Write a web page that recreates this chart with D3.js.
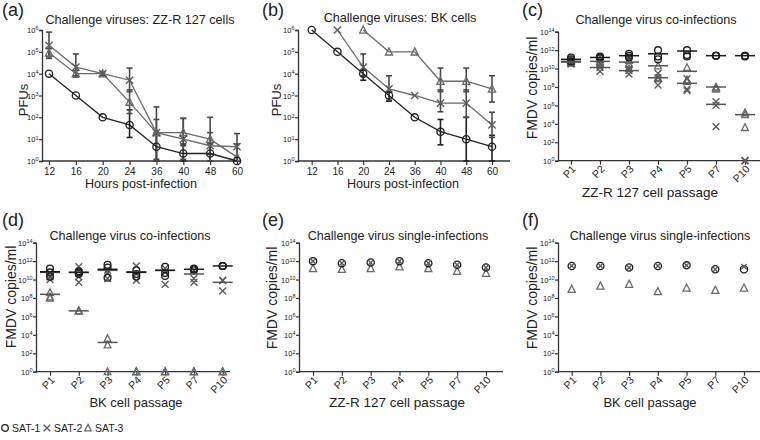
<!DOCTYPE html>
<html>
<head>
<meta charset="utf-8">
<script src="https://cdn.jsdelivr.net/npm/d3@7"></script>
<style>
  body { margin: 0; background: #fff; }
  text { font-family: "Liberation Sans", Arial, sans-serif; fill: #222; }
</style>
</head>
<body>
<svg id="chart" width="760" height="440"></svg>
<script>
// ---- data ----
var hours = ['12', '16', '20', '24', '36', '40', '48', '60'];
var passages = ['P1', 'P2', 'P3', 'P4', 'P5', 'P7', 'P10'];
var pfuTicks = [1e0, 1e1, 1e2, 1e3, 1e4, 1e5, 1e6];
var copyTicks = [1e0, 1e2, 1e4, 1e6, 1e8, 1e10, 1e12, 1e14];
var serotypes = ['SAT-1', 'SAT-2', 'SAT-3'];

// (a) ZZ-R 127 cells, PFUs
var zzSat1 = [1e4, 1e3, 100, 45, 4.5, 2.2, 2.2, 1];
var zzSat1Err = [null, null, null, [12, 220], [1, 20], [1, 6], [1, 6], null];
var zzSat2 = [2e5, 2e4, 1e4, 5e3, 20, 10, 5, 4.5];
var zzSat2Err = [[6e4, 8e5], [8e3, 8e4], null, [1.5e3, 1.8e4], [1, 300], [1.2, 90], [1, 100], [1, 18]];
var zzSat3 = [9e4, 1e4, 1e4, 500, 20, 20, 10, 1.5];
var zzSat3Err = [[5e4, 1.4e5], [7e3, 1.4e4], [8e3, 1.2e4], [150, 1.8e3], [1.2, 80], [5, 90], [2, 20], [1, 6]];

// (b) BK cells, PFUs
var bkSat1 = [1e6, 1e5, 1e4, 1e3, 100, 22, 10, 4.5];
var bkSat1Err = [null, null, [5e3, 1.5e4], [550, 1.4e3], null, [5.5, 80], [1, 100], [1, 15]];
var bkSat2 = [null, 1e6, 2e4, 2e3, 1e3, 450, 450, 45];
var bkSat2Err = [null, null, [8e3, 8e4], [600, 8e3], null, [180, 1.8e3], [100, 1.8e3], [12, 170]];
var bkSat3 = [null, null, 1e6, 1e5, 1e5, 4.5e3, 4.5e3, 2e3];
var bkSat3Err = [null, null, null, null, null, [1.5e3, 1.8e4], [1.5e3, 1.8e4], [500, 8e3]];

// (c) co-infections, ZZ-R 127 passage (copies/ml, three replicates)
var zzCoSat1 = [[1.6e11, 1e11, 6e10], [2e11, 1.3e11, 1.6e11], [4e11, 2.5e11, 1.6e11], [1e12, 1e11, 2e11],
                [1e12, 3e11, 2e11], [2.5e11, 2.5e11, 2.5e11], [2.5e11, 2.5e11, 2e11]];
var zzCoSat2 = [[5e10, 3e10, 4e10], [3e10, 1.3e10, 5e9], [1e10, 2.5e9, 6e9], [3e9, 1.6e8, 1e9],
                [8e8, 6e7, 4e7], [2.5e6, 1e6, 5e3], [1, 1, 1]];
var zzCoSat3 = [[6e10, 8e10, 4e10], [6e10, 4e10, 1e11], [8e10, 3e10, 1e10], [2e10, 1e9, 8e8],
                [1.3e10, 6e8, 4e8], [1e8, 8e7, 6e7], [1e5, 1.6e5, 4e3]];
var zzCoMean1 = [1e11, 1.6e11, 2.5e11, 4e11, 8e11, 2.5e11, 2.5e11];
var zzCoMean2 = [5e10, 1.3e10, 6e9, 1e9, 2.5e8, 1.3e6, null];
var zzCoMean3 = [6e10, 6e10, 5e10, 2e10, 5e9, 1e8, 1e5];

// (d) co-infections, BK passage
var bkCoSat1 = [[1.6e11, 6e10, 2e10], [8e10, 4e10, 6e10], [4e11, 2e11, 1.6e10], [1e11, 4e10, 2e10],
                [2.5e11, 5e10, 2.5e10], [1.6e11, 1e11, 1.3e11], [3e11, 3e11, 3e11]];
var bkCoSat2 = [[1e10, 2e10, 5e10], [2.5e11, 5e9, 2e10], [1.3e10, 5e10, 1e11], [3e11, 8e9, 4e10],
                [3e9, 1.6e11, 6e10], [1.3e10, 5e9, 1e11], [8e9, 6e8, 8e9]];
var bkCoSat3 = [[4e8, 1.3e8, 1e8], [4e6, 4e6, 4e6], [4e3, 8e2, 1], [1, 1, 1], [1, 1, 1], [1, 1, 1], [1, 1, 1]];
var bkCoMean1 = [7e10, 6e10, 1.3e11, 6e10, 1e11, 1.3e11, 3e11];
var bkCoMean2 = [6e10, 6e10, 1e11, 7e10, 1e11, 4e10, 5e9];
var bkCoMean3 = [2.5e8, 4e6, 1.5e3, null, null, null, null];

// (e) single infections, ZZ-R 127 passage
var zzSingle1 = [1e12, 6e11, 7e11, 1e12, 6e11, 4e11, 2e11];
var zzSingle2 = [1e12, 6e11, 7e11, 1e12, 6e11, 4e11, 2e11];
var zzSingle3 = [1.6e11, 1.3e11, 1.6e11, 2.5e11, 1.6e11, 8e10, 5e10];

// (f) single infections, BK passage
var bkSingle1 = [3e11, 3e11, 2e11, 3e11, 3.5e11, 1.3e11, 1.3e11];
var bkSingle2 = [3e11, 3e11, 2e11, 3e11, 3.5e11, 1.3e11, 2.5e11];
var bkSingle3 = [9e8, 2e9, 3.2e9, 5e8, 1.2e9, 7e8, 1.2e9];

// ---- styling ----
var colors = ['#1e1e1e', '#5c5c5c', '#6a6a6a'];
var lineColors = ['#222', '#6a6a6a', '#6a6a6a'];
var svg = d3.select('#chart');
svg.append('rect').attr('width', 760).attr('height', 440).attr('fill', '#fff');

function marker(g, kind, cx, cy, color, size) {
	var s = size || 3.5;
	if (kind === 0) {
		g.append('circle').attr('cx', cx).attr('cy', cy).attr('r', s)
			.attr('fill', 'none').attr('stroke', color).attr('stroke-width', 1.3);
	} else if (kind === 1) {
		g.append('path')
			.attr('d', 'M' + (cx - s) + ',' + (cy - s) + 'L' + (cx + s) + ',' + (cy + s) +
				'M' + (cx - s) + ',' + (cy + s) + 'L' + (cx + s) + ',' + (cy - s))
			.attr('stroke', color).attr('stroke-width', 1.4).attr('fill', 'none');
	} else {
		var h = s * 1.1;
		g.append('path')
			.attr('d', 'M' + cx + ',' + (cy - h) + 'L' + (cx + s) + ',' + (cy + h * 0.8) +
				'L' + (cx - s) + ',' + (cy + h * 0.8) + 'Z')
			.attr('stroke', color).attr('stroke-width', 1.3).attr('fill', 'none');
	}
}

function logAxis(g, y, ticks, x0) {
	var ax = g.append('g').attr('transform', 'translate(' + x0 + ',0)')
		.call(d3.axisLeft(y).tickValues(ticks).tickSize(3).tickFormat(''));
	ax.select('.domain').attr('stroke', '#333').attr('stroke-width', 1.3);
	ax.selectAll('.tick line').attr('stroke', '#333').attr('stroke-width', 1.2);
	var t = ax.selectAll('.tick').append('text')
		.attr('x', -3.5).attr('dy', '0.35em').attr('text-anchor', 'end')
		.style('font-size', '7.5px').attr('fill', '#333');
	t.text('10');
	t.append('tspan').attr('dy', '-0.5em').style('font-size', '5.5px')
		.text(function(d){ return Math.round(Math.log10(d)); });
}

function frame(cfg) {
	var g = svg.append('g');
	g.append('text').attr('x', cfg.lx).attr('y', cfg.ly).style('font-size', '18px').text(cfg.tag);
	g.append('text').attr('x', cfg.tx).attr('y', cfg.ty).attr('text-anchor', 'middle')
		.style('font-size', '12.6px').text(cfg.title);
	g.append('text').attr('transform', 'translate(' + cfg.yx + ',' + cfg.yy + ') rotate(-90)')
		.attr('text-anchor', 'middle').style('font-size', cfg.ysize).text(cfg.ylabel);
	g.append('text').attr('x', cfg.xx).attr('y', cfg.xy).attr('text-anchor', 'middle')
		.style('font-size', cfg.xsize).text(cfg.xlabel);
	return g;
}

function timePanel(cfg, vals, errs) {
	var g = frame(cfg);
	var x = d3.scalePoint().domain(hours).range(cfg.px);
	var y = d3.scaleLog().domain([1, 1e6]).range([cfg.yBot, cfg.yTop]);

	var xa = g.append('g').attr('transform', 'translate(0,' + cfg.yBot + ')')
		.call(d3.axisBottom(x).tickSize(4).tickSizeOuter(0));
	xa.select('.domain').attr('d', 'M' + cfg.x0 + ',0H' + cfg.x1)
		.attr('stroke', '#333').attr('stroke-width', 1.3);
	xa.selectAll('.tick line').attr('stroke', '#333').attr('stroke-width', 1.2);
	xa.selectAll('.tick text').attr('y', 7).style('font-size', '10px')
		.style('font-family', '"Liberation Sans", Arial, sans-serif').attr('fill', '#333');
	logAxis(g, y, pfuTicks, cfg.x0);

	// error bars
	errs.forEach(function(err, si){
		err.forEach(function(e, i){
			if (!e) return;
			var cx = x(hours[i]);
			var eg = g.append('g').attr('stroke', si === 0 ? '#222' : '#4a4a4a').attr('stroke-width', 1.6);
			eg.append('line').attr('x1', cx).attr('x2', cx).attr('y1', y(e[0])).attr('y2', y(e[1]));
			eg.append('line').attr('x1', cx - 3).attr('x2', cx + 3).attr('y1', y(e[0])).attr('y2', y(e[0]));
			eg.append('line').attr('x1', cx - 3).attr('x2', cx + 3).attr('y1', y(e[1])).attr('y2', y(e[1]));
		});
	});

	// lines and markers, SAT-1 drawn last
	[2, 1, 0].forEach(function(si){
		var line = d3.line()
			.defined(function(d){ return d != null; })
			.x(function(d, i){ return x(hours[i]); })
			.y(function(d){ return y(d); });
		g.append('path').datum(vals[si]).attr('d', line)
			.attr('fill', 'none').attr('stroke', lineColors[si]).attr('stroke-width', 1.3);
		vals[si].forEach(function(v, i){
			if (v == null) return;
			marker(g, si, x(hours[i]), y(v), colors[si], 3.6);
		});
	});
}

function passagePanel(cfg, reps, means, single) {
	var g = frame(cfg);
	var x = d3.scalePoint().domain(passages).range(cfg.px);
	var y = d3.scaleLog().domain([1, 1e14]).range([cfg.yBot, cfg.yTop]);

	var xa = g.append('g').attr('transform', 'translate(0,' + cfg.yBot + ')')
		.call(d3.axisBottom(x).tickSize(4).tickSizeOuter(0));
	xa.select('.domain').attr('d', 'M' + cfg.x0 + ',0H' + cfg.x1)
		.attr('stroke', '#333').attr('stroke-width', 1.3);
	xa.selectAll('.tick line').attr('stroke', '#333').attr('stroke-width', 1.2);
	xa.selectAll('.tick text').attr('y', 0).attr('dy', 0)
		.attr('transform', 'translate(5,9) rotate(-45)')
		.attr('text-anchor', 'end').style('font-size', '10.5px')
		.style('font-family', '"Liberation Sans", Arial, sans-serif').attr('fill', '#333');
	logAxis(g, y, copyTicks, cfg.x0);

	if (reps) {
		[2, 1, 0].forEach(function(si){
			reps[si].forEach(function(arr, i){
				arr.forEach(function(v){ marker(g, si, x(passages[i]), y(v), colors[si], 3.4); });
			});
		});
		[2, 1, 0].forEach(function(si){
			means[si].forEach(function(m, i){
				if (m == null) return;
				var cx = x(passages[i]);
				g.append('line').attr('x1', cx - 10).attr('x2', cx + 10)
					.attr('y1', y(m)).attr('y2', y(m))
					.attr('stroke', si === 0 ? '#1a1a1a' : '#555').attr('stroke-width', 1.5);
			});
		});
	} else {
		[2, 0, 1].forEach(function(si){
			single[si].forEach(function(v, i){
				marker(g, si, x(passages[i]), y(v), colors[si], si === 1 ? 2.6 : 3.6);
			});
		});
	}
}

timePanel({tag: '(a)', lx: 2, ly: 16, title: 'Challenge viruses: ZZ-R 127 cells', tx: 140, ty: 24,
	ylabel: 'PFUs', yx: 28, yy: 100, ysize: '13px', xlabel: 'Hours post-infection', xx: 141, xy: 188, xsize: '12.6px',
	x0: 42, x1: 241, px: [49, 237], yTop: 30, yBot: 161},
	[zzSat1, zzSat2, zzSat3], [zzSat1Err, zzSat2Err, zzSat3Err]);

timePanel({tag: '(b)', lx: 262, ly: 16, title: 'Challenge viruses: BK cells', tx: 400, ty: 22,
	ylabel: 'PFUs', yx: 281, yy: 100, ysize: '13px', xlabel: 'Hours post-infection', xx: 403, xy: 188, xsize: '12.6px',
	x0: 298, x1: 510, px: [311.7, 492], yTop: 30, yBot: 161},
	[bkSat1, bkSat2, bkSat3], [bkSat1Err, bkSat2Err, bkSat3Err]);

passagePanel({tag: '(c)', lx: 522, ly: 16, title: 'Challenge virus co-infections', tx: 656, ty: 24,
	ylabel: 'FMDV copies/ml', yx: 537, yy: 88, ysize: '14px', xlabel: 'ZZ-R 127 cell passage', xx: 650, xy: 197, xsize: '13.5px',
	x0: 558, x1: 760, px: [571, 745], yTop: 31.7, yBot: 160.7},
	[zzCoSat1, zzCoSat2, zzCoSat3], [zzCoMean1, zzCoMean2, zzCoMean3]);

passagePanel({tag: '(d)', lx: 2, ly: 226, title: 'Challenge virus co-infections', tx: 130, ty: 240,
	ylabel: 'FMDV copies/ml', yx: 16, yy: 297, ysize: '14px', xlabel: 'BK cell passage', xx: 136, xy: 407, xsize: '13px',
	x0: 36, x1: 230, px: [50, 222.7], yTop: 242.7, yBot: 371.7},
	[bkCoSat1, bkCoSat2, bkCoSat3], [bkCoMean1, bkCoMean2, bkCoMean3]);

passagePanel({tag: '(e)', lx: 262, ly: 226, title: 'Challenge virus single-infections', tx: 398, ty: 240,
	ylabel: 'FMDV copies/ml', yx: 277, yy: 298, ysize: '14px', xlabel: 'ZZ-R 127 cell passage', xx: 397, xy: 407, xsize: '13.5px',
	x0: 299, x1: 503, px: [313, 486], yTop: 242.7, yBot: 371.7},
	null, null, [zzSingle1, zzSingle2, zzSingle3]);

passagePanel({tag: '(f)', lx: 522, ly: 226, title: 'Challenge virus single-infections', tx: 660, ty: 240,
	ylabel: 'FMDV copies/ml', yx: 537, yy: 298, ysize: '14px', xlabel: 'BK cell passage', xx: 650, xy: 407, xsize: '13px',
	x0: 558, x1: 760, px: [571.7, 744], yTop: 242.7, yBot: 371.7},
	null, null, [bkSingle1, bkSingle2, bkSingle3]);

// legend
var legX = [5, 47, 88];
var leg = svg.append('g');
serotypes.forEach(function(name, i){
	marker(leg, i, legX[i], 428, colors[i], 3.3);
	leg.append('text').attr('x', legX[i] + 7).attr('y', 432).style('font-size', '10.5px').text(name);
});
</script>
</body>
</html>
